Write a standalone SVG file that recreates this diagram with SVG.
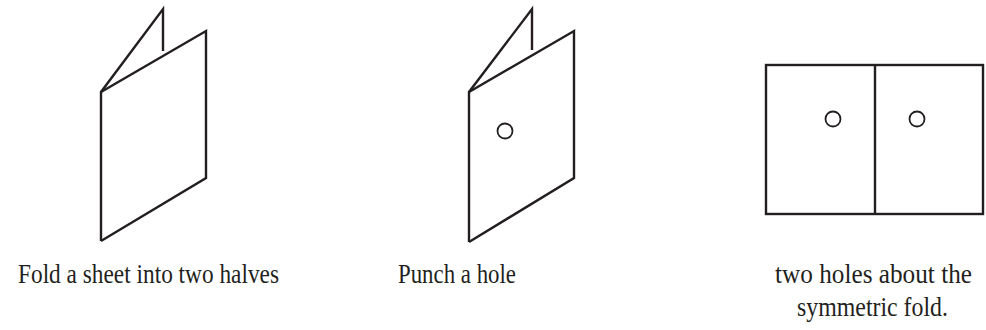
<svg xmlns="http://www.w3.org/2000/svg" width="986" height="330" viewBox="0 0 986 330">
<style>
.ln{fill:none;stroke:#231f20;stroke-width:2.4;stroke-linejoin:miter;stroke-linecap:butt}
.hole{fill:none;stroke:#231f20;stroke-width:1.8}
.t{font-family:"Liberation Serif","Times New Roman",serif;font-size:27px;fill:#231f20}
</style>
<rect width="986" height="330" fill="#ffffff"/>
<g id="fig1">
<path class="ln" d="M101,241 L101,92 L163,9 L163,51"/>
<path class="ln" d="M101,92 L206,31 L206,178 L101,241"/>
<text class="t" x="18" y="283" textLength="261" lengthAdjust="spacingAndGlyphs">Fold a sheet into two halves</text>
</g>
<g id="fig2">
<path class="ln" d="M469,242 L469,92 L532,9 L532,50"/>
<path class="ln" d="M469,92 L574,31 L574,178 L469,242"/>
<circle class="hole" cx="505" cy="131" r="7.5"/>
<text class="t" x="398" y="283" textLength="118" lengthAdjust="spacingAndGlyphs">Punch a hole</text>
</g>
<g id="fig3">
<rect class="ln" x="766" y="65" width="217" height="149"/>
<line class="ln" x1="875" y1="65" x2="875" y2="214"/>
<circle class="hole" cx="833" cy="119" r="7.5"/>
<circle class="hole" cx="917" cy="119" r="7.5"/>
<text class="t" x="775" y="283" textLength="197" lengthAdjust="spacingAndGlyphs">two holes about the</text>
<text class="t" x="797" y="316" textLength="151" lengthAdjust="spacingAndGlyphs">symmetric fold.</text>
</g>
<g id="connectors"/>
</svg>
